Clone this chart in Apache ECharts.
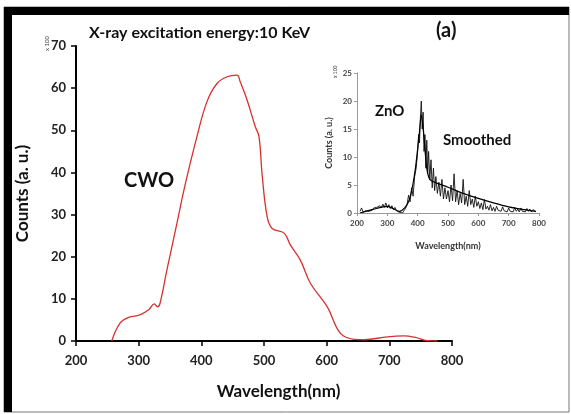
<!DOCTYPE html>
<html>
<head>
<meta charset="utf-8">
<script src="https://cdn.jsdelivr.net/npm/echarts@6/dist/echarts.min.js"></script>
<style>
  html, body { margin: 0; padding: 0; background: #fff; }
  #chart { width: 571px; height: 414px; }
</style>
</head>
<body>
<div id="chart"></div>
<script>
// CWO spectrum (main panel), counts x100
var cwoWave = [257, 270, 284, 302, 316, 325, 330, 334, 345, 361, 374, 393, 409, 425, 441, 457, 462, 473, 486, 492, 497, 505, 513, 532, 542, 558, 574, 601, 622, 644, 660, 697, 724, 740, 761, 777];
var cwoCounts = [0, 4.2, 5.6, 6.2, 7.4, 8.8, 8.1, 8.9, 16.8, 27.9, 37, 48.5, 56.8, 61.1, 62.7, 63.1, 61.5, 57.2, 50.9, 48.5, 39.5, 29.5, 26.7, 25.6, 22.8, 19.2, 13.7, 8.1, 1.8, 0.4, 0.3, 1.0, 1.2, 0.9, 0.1, 0];

// ZnO raw spectrum (inset)
var znoWave = [210, 215, 220, 225, 230, 235, 240, 245, 250, 255, 260, 265, 270, 275, 280, 285, 290, 295, 300, 305, 310, 315, 320, 325, 330, 335, 340, 345, 350, 355, 360, 365, 370, 375, 380, 385, 390, 395, 400, 403, 406, 409, 412, 415, 418, 421, 424, 427, 430, 433, 436, 440, 444, 448, 452, 456, 460, 465, 470, 475, 480, 485, 490, 495, 500, 505, 510, 515, 520, 525, 530, 535, 540, 545, 550, 555, 560, 565, 570, 575, 580, 585, 590, 595, 600, 605, 610, 615, 620, 625, 630, 635, 640, 645, 650, 655, 660, 665, 670, 675, 680, 685, 690, 695, 700, 705, 710, 715, 720, 725, 730, 735, 740, 745, 750, 755, 760, 765, 770, 775, 780, 785, 790];
var znoCounts = [0.3, 0.9, 0.2, 0.5, 0.4, 0.7, 0.3, 0.6, 0.5, 0.9, 0.6, 1.0, 0.7, 1.3, 0.9, 1.6, 1.0, 1.8, 0.9, 1.5, 0.8, 1.3, 0.6, 1.0, 0.4, 0.6, 0.1, 0.3, 0.0, 0.4, 0.8, 1.5, 3.2, 2.0, 4.5, 3.0, 6.5, 8.0, 11.0, 14, 12.5, 17, 20, 15, 18, 11, 14, 8, 13, 7, 11, 6, 9.5, 4.5, 8, 4, 6.5, 3.5, 5.5, 3, 6, 2.5, 4.5, 2.5, 4, 2, 5, 2.2, 7, 2, 4, 1.5, 3.5, 1.8, 6, 1.5, 3, 1.2, 4, 1.5, 2.5, 1, 3, 1.2, 2, 0.8, 1.8, 0.6, 2.4, 0.7, 1.2, 0.5, 1.5, 0.4, 1.0, 0.3, 1.2, 0.5, 0.8, 0.3, 1.1, 0.4, 0.7, 0.2, 0.9, 0.3, 0.6, 0.2, 1.0, 0.3, 0.7, 0.2, 0.9, 0.3, 0.6, 0.2, 0.8, 0.3, 0.7, 0.2, 0.6, 0.3, 0.2];

// ZnO smoothed (inset)
var smoothWave = [210, 250, 300, 340, 370, 390, 405, 412, 420, 430, 440, 460, 500, 550, 600, 650, 700, 750, 790];
var smoothCounts = [0, 0.6, 1.2, 0.3, 2, 7, 14, 17.5, 14, 8, 6, 5.4, 4.6, 3.5, 2.6, 1.8, 1.1, 0.6, 0.3];

function pairs(xs, ys) {
    var out = [];
    for (var i = 0; i < xs.length; i++) {
        out.push([xs[i], ys[i]]);
    }
    return out;
}

var font = 'Lato';
var myChart = echarts.init(document.getElementById('chart'));
var option = {
    backgroundColor: '#fff',
    animation: false,
    grid: [
        { left: 76, right: 119, top: 46, bottom: 73 },
        { left: 357, right: 32, top: 73, bottom: 201 }
    ],
    xAxis: [
        {
            gridIndex: 0, type: 'value', min: 200, max: 800, interval: 100,
            name: 'Wavelength(nm)', nameLocation: 'middle', nameGap: 42,
            nameTextStyle: { fontFamily: font, fontWeight: 'bold', fontSize: 17, color: '#111', padding: [0, 0, 0, 29] },
            axisLine: { lineStyle: { color: '#000', width: 2 } },
            axisTick: { length: 5, lineStyle: { color: '#000', width: 1.5 } },
            axisLabel: { fontFamily: font, fontWeight: 'bold', fontSize: 13, color: '#222', margin: 13 },
            splitLine: { show: false }
        },
        {
            gridIndex: 1, type: 'value', min: 200, max: 800, interval: 100,
            name: 'Wavelength(nm)', nameLocation: 'middle', nameGap: 29,
            nameTextStyle: { fontFamily: font, fontWeight: 'bold', fontSize: 9, color: '#333' },
            axisLine: { lineStyle: { color: '#999', width: 1 } },
            axisTick: { length: 3, lineStyle: { color: '#999' } },
            axisLabel: { fontFamily: font, fontWeight: 'bold', fontSize: 8, color: '#444', margin: 6 },
            splitLine: { show: false }
        }
    ],
    yAxis: [
        {
            gridIndex: 0, type: 'value', min: 0, max: 70, interval: 10,
            name: 'Counts (a. u.)', nameLocation: 'middle', nameGap: 45,
            nameTextStyle: { fontFamily: font, fontWeight: 'bold', fontSize: 17, color: '#111' },
            axisLine: { show: true, lineStyle: { color: '#000', width: 2 } },
            axisTick: { show: true, length: 5, lineStyle: { color: '#000', width: 1.5 } },
            axisLabel: { fontFamily: font, fontWeight: 'bold', fontSize: 13, color: '#222', margin: 10 },
            splitLine: { show: false }
        },
        {
            gridIndex: 1, type: 'value', min: 0, max: 25, interval: 5,
            name: 'Counts (a. u.)', nameLocation: 'middle', nameGap: 23,
            nameTextStyle: { fontFamily: font, fontWeight: 'bold', fontSize: 9, color: '#333' },
            axisLine: { show: true, lineStyle: { color: '#999', width: 1 } },
            axisTick: { show: true, length: 3, lineStyle: { color: '#999' } },
            axisLabel: { fontFamily: font, fontWeight: 'bold', fontSize: 8, color: '#444', margin: 5 },
            splitLine: { show: false }
        }
    ],
    series: [
        {
            name: 'CWO', type: 'line', xAxisIndex: 0, yAxisIndex: 0,
            data: pairs(cwoWave, cwoCounts), smooth: 0.4, symbol: 'none',
            lineStyle: { color: '#d9302e', width: 1.3 }
        },
        {
            name: 'ZnO', type: 'line', xAxisIndex: 1, yAxisIndex: 1,
            data: pairs(znoWave, znoCounts), symbol: 'none',
            lineStyle: { color: '#111', width: 0.9 }
        },
        {
            name: 'Smoothed', type: 'line', xAxisIndex: 1, yAxisIndex: 1,
            data: pairs(smoothWave, smoothCounts), smooth: 0.3, symbol: 'none',
            lineStyle: { color: '#000', width: 1.2 }
        }
    ],
    graphic: [
        // frame
        { type: 'rect', shape: { x: 4, y: 7, width: 565, height: 405 }, style: { fill: 'none', stroke: '#777', lineWidth: 1 } },
        { type: 'rect', shape: { x: 4, y: 7, width: 565, height: 8 }, style: { fill: '#000' } },
        { type: 'rect', shape: { x: 4, y: 7, width: 8, height: 405 }, style: { fill: '#000' } },
        // texts
        { type: 'text', left: 89, top: 25, style: { text: 'X-ray excitation energy:10 KeV', font: 'bold 16px Lato', fill: '#111' } },
        { type: 'text', left: 436, top: 21, style: { text: '(a)', font: 'bold 20px Lato', fill: '#111' } },
        { type: 'text', left: 124, top: 171, style: { text: 'CWO', font: 'bold 20px Lato', fill: '#111' } },
        { type: 'text', left: 375, top: 104, style: { text: 'ZnO', font: 'bold 15px Lato', fill: '#111' } },
        { type: 'text', left: 443, top: 133, style: { text: 'Smoothed', font: 'bold 15px Lato', fill: '#111' } },
        { type: 'text', x: 44, y: 51, rotation: Math.PI / 2, style: { text: 'x 100', font: '6px Lato', fill: '#333' } },
        { type: 'text', x: 333, y: 78, rotation: Math.PI / 2, style: { text: 'x 100', font: '5px Lato', fill: '#333' } }
    ]
};
myChart.setOption(option);
</script>
</body>
</html>
